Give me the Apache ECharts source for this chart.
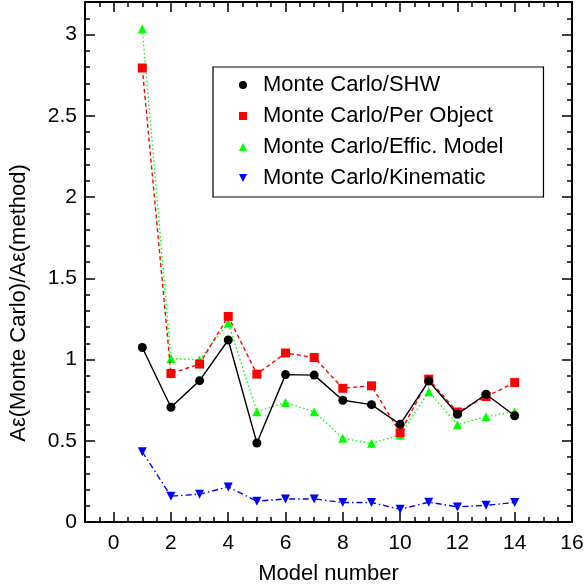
<!DOCTYPE html>
<html>
<head>
<meta charset="utf-8">
<script src="https://cdn.jsdelivr.net/npm/echarts@6/dist/echarts.min.js"></script>
<style>html,body{margin:0;padding:0;background:#fff}#c{width:584px;height:584px}</style>
</head>
<body>
<div id="c"></div>
<script>
const models = [1,2,3,4,5,6,7,8,9,10,11,12,13,14];
const shw = [1.074,0.706,0.870,1.120,0.486,0.907,0.904,0.749,0.722,0.601,0.868,0.663,0.786,0.654];
const perObject = [2.794,0.914,0.972,1.265,0.910,1.040,1.012,0.823,0.838,0.549,0.879,0.677,0.772,0.858];
const efficModel = [3.035,1.006,0.998,1.225,0.679,0.735,0.679,0.515,0.484,0.535,0.802,0.599,0.648,0.679];
const kinematic = [0.432,0.159,0.171,0.216,0.128,0.142,0.142,0.120,0.120,0.078,0.122,0.093,0.103,0.120];
const xMajorTicks = [0,2,4,6,8,10,12,14,16];
const xMinorTicks = [-0.5,0.5,1,1.5,2.5,3,3.5,4.5,5,5.5,6.5,7,7.5,8.5,9,9.5,10.5,11,11.5,12.5,13,13.5,14.5,15,15.5];
const yMajorTicks = [0,0.5,1,1.5,2,2.5,3];
const yMinorTicks = [0.1,0.2,0.3,0.4,0.6,0.7,0.8,0.9,1.1,1.2,1.3,1.4,1.6,1.7,1.8,1.9,2.1,2.2,2.3,2.4,2.6,2.7,2.8,2.9,3.1];
const names = ['Monte Carlo/SHW','Monte Carlo/Per Object','Monte Carlo/Effic. Model','Monte Carlo/Kinematic'];

const FONT = 'Liberation Sans, Arial, Helvetica, sans-serif';
const pairs = arr => models.map((m,i)=>[m,arr[i]]);

function mkAxis(range, pos, ticks, len, labelVals, showLine){
  return {type:'value', min:range[0], max:range[1], position:pos, gridIndex:0,
    axisLine: {show:showLine, onZero:false, lineStyle:{color:'#000', width:2}},
    axisTick:{show:true, inside:true, length:len, customValues:ticks, lineStyle:{color:'#000', width:1.5}},
    axisLabel: labelVals ? {show:true, customValues:labelVals, color:'#000', fontSize:21, fontFamily:FONT, margin:pos==='bottom'?11:8} : {show:false},
    splitLine:{show:false}};
}
const XR = [-1,16], YR = [0,3.2];
const xAxes = [mkAxis(XR,'bottom', xMajorTicks, 10, xMajorTicks, true), mkAxis(XR,'bottom', xMinorTicks, 5, null, false),
  mkAxis(XR,'top', xMajorTicks, 10, null, true), mkAxis(XR,'top', xMinorTicks, 5, null, false)];
xAxes[0].name = 'Model number';
xAxes[0].nameLocation = 'middle';
xAxes[0].nameGap = 41;
xAxes[0].nameTextStyle = {color:'#000', fontSize:22, fontFamily:FONT};
const yAxes = [mkAxis(YR,'left', yMajorTicks, 10, yMajorTicks, true), mkAxis(YR,'left', yMinorTicks, 5, null, false),
  mkAxis(YR,'right', yMajorTicks, 10, null, true), mkAxis(YR,'right', yMinorTicks, 5, null, false)];
yAxes[0].name = 'Aε(Monte Carlo)/Aε(method)';
yAxes[0].nameLocation = 'middle';
yAxes[0].nameGap = 55;
yAxes[0].nameTextStyle = {color:'#000', fontSize:22, fontFamily:FONT, padding:[0,82,0,0]};

const chart = echarts.init(document.getElementById('c'), null, {renderer:'canvas'});
chart.setOption({
  animation:false,
  backgroundColor:'#fff',
  grid:{left:85, right:12, top:2, bottom:62, containLabel:false, outerBoundsMode:'none'},
  xAxis:xAxes,
  yAxis:yAxes,
  legend:{
    orient:'vertical', left:213, top:67,
    padding:[7,40,8,26], itemGap:9,
    itemWidth:8, itemHeight:8,
    borderColor:'#000', borderWidth:1.2, backgroundColor:'#fff',
    textStyle:{color:'#000', fontSize:22, fontFamily:FONT, lineHeight:22, padding:[0,0,0,11]},
    data:[
      {name:names[0], icon:'circle'},
      {name:names[1], icon:'rect'},
      {name:names[2], icon:'triangle'},
      {name:names[3], icon:'path://M0,0L10,0L5,10Z'}
    ]
  },
  series:[
    {name:names[0], type:'line', data:pairs(shw), symbol:'circle', symbolSize:9,
      itemStyle:{color:'#000'}, lineStyle:{color:'#000', width:1.4, type:'solid'}, z:5},
    {name:names[1], type:'line', data:pairs(perObject), symbol:'rect', symbolSize:9,
      itemStyle:{color:'#ff0000'}, lineStyle:{color:'#ff0000', width:1.4, type:[4,3]}, z:4},
    {name:names[2], type:'line', data:pairs(efficModel), symbol:'triangle', symbolSize:9,
      itemStyle:{color:'#00ff00'}, lineStyle:{color:'#00ff00', width:1.4, type:[1.5,2.5]}, z:3},
    {name:names[3], type:'line', data:pairs(kinematic), symbol:'triangle', symbolRotate:180, symbolSize:9,
      itemStyle:{color:'#0000ff'}, lineStyle:{color:'#0000ff', width:1.4, type:[6,3,1.5,3]}, z:2}
  ]
});
</script>
</body>
</html>
